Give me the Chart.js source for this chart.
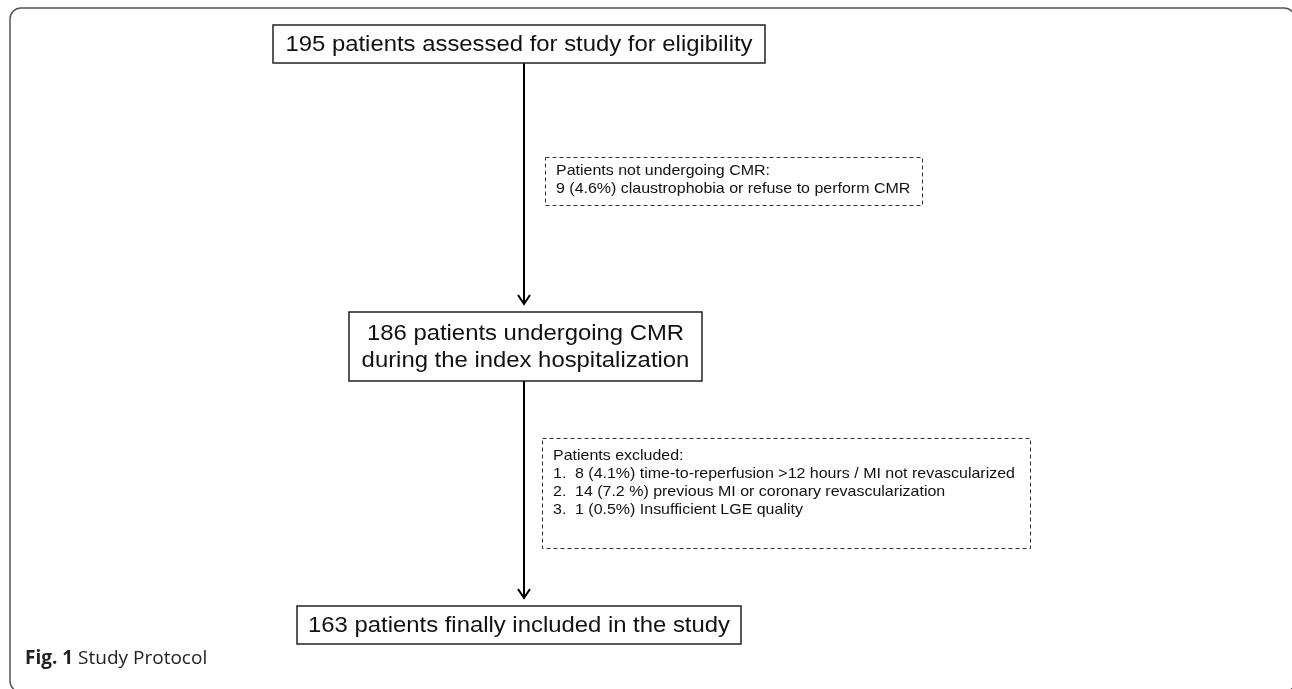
<!DOCTYPE html>
<html>
<head>
<meta charset="utf-8">
<script src="https://cdn.jsdelivr.net/npm/chart.js@4/dist/chart.umd.min.js"></script>
<style>
  body { margin: 0; background: #fff; }
  canvas { display: block; }
</style>
</head>
<body>
<canvas id="flow" width="1292" height="689"></canvas>
<script>
// flow counts
const stageCounts = [195, 186, 163];
const stageLines = [
    ['{n} patients assessed for study for eligibility'],
    ['{n} patients undergoing CMR', 'during the index hospitalization'],
    ['{n} patients finally included in the study']
];
const exclusionTitles = ['Patients not undergoing CMR:', 'Patients excluded:'];
const exclusionCounts = [[9], [8, 14, 1]];
const exclusionPct = [['4.6%'], ['4.1%', '7.2 %', '0.5%']];
const exclusionReasons = [
    ['claustrophobia or refuse to perform CMR'],
    ['time-to-reperfusion >12 hours / MI not revascularized',
     'previous MI or coronary revascularization',
     'Insufficient LGE quality']
];
const caption = ['Fig. 1', 'Study Protocol'];

// layout in scale units (x: 0..1292, y: 0..689 top-down)
const layout = {
    stages: [
        {x0: 273, x1: 765, y0: 25, y1: 63},
        {x0: 349, x1: 702, y0: 312, y1: 381},
        {x0: 297, x1: 741, y0: 606, y1: 644}
    ],
    side: [
        {x0: 545, x1: 922, y0: 157, y1: 205, first: 14},
        {x0: 542, x1: 1030, y0: 438, y1: 548, first: 18}
    ],
    arrowX: 524
};

// text is a bit wider than Liberation Sans in the original
function stretchText(ctx, text, x, y, sx, align) {
    ctx.save();
    const w = ctx.measureText(text).width * sx;
    let left = x;
    if (align === 'center') left = x - w / 2;
    ctx.translate(left, y);
    ctx.scale(sx, 1);
    ctx.textAlign = 'left';
    ctx.fillText(text, 0, 0);
    ctx.restore();
}

const flowPlugin = {
    id: 'flow',
    afterDraw(chart) {
        const ctx = chart.ctx;
        const sx = chart.scales.x, sy = chart.scales.y;
        const X = v => sx.getPixelForValue(v);
        const Y = v => sy.getPixelForValue(v);
        ctx.save();

        // outer frame
        ctx.strokeStyle = '#555';
        ctx.lineWidth = 1.5;
        ctx.beginPath();
        ctx.roundRect(X(10), Y(8), X(1295) - X(10), Y(692) - Y(8), 11);
        ctx.stroke();

        // arrows between stages
        ctx.strokeStyle = '#000';
        ctx.lineWidth = 2;
        for (let i = 0; i < layout.stages.length - 1; i++) {
            const top = Y(layout.stages[i].y1), tip = Y(layout.stages[i + 1].y0 - 8);
            const ax = X(layout.arrowX);
            ctx.beginPath();
            ctx.moveTo(ax, top);
            ctx.lineTo(ax, tip);
            ctx.moveTo(ax - 6, tip - 9);
            ctx.lineTo(ax, tip);
            ctx.lineTo(ax + 6, tip - 9);
            ctx.stroke();
        }

        // stage boxes
        ctx.font = '22px "Liberation Sans", Arial, sans-serif';
        ctx.textBaseline = 'middle';
        layout.stages.forEach((b, i) => {
            ctx.fillStyle = '#fff';
            ctx.fillRect(X(b.x0), Y(b.y0), X(b.x1) - X(b.x0), Y(b.y1) - Y(b.y0));
            ctx.strokeStyle = '#222';
            ctx.lineWidth = 1.5;
            ctx.strokeRect(X(b.x0), Y(b.y0), X(b.x1) - X(b.x0), Y(b.y1) - Y(b.y0));
            ctx.fillStyle = '#111';
            const lines = stageLines[i];
            const cx = (X(b.x0) + X(b.x1)) / 2, cy = (Y(b.y0) + Y(b.y1)) / 2;
            const lh = 27;
            lines.forEach((t, j) => {
                stretchText(ctx, t.replace('{n}', stageCounts[i]), cx,
                    cy + (j - (lines.length - 1) / 2) * lh + 1, 1.085, 'center');
            });
        });

        // exclusion boxes
        ctx.font = '15px "Liberation Sans", Arial, sans-serif';
        layout.side.forEach((b, i) => {
            ctx.fillStyle = '#fff';
            ctx.fillRect(X(b.x0), Y(b.y0), X(b.x1) - X(b.x0), Y(b.y1) - Y(b.y0));
            ctx.strokeStyle = '#333';
            ctx.lineWidth = 1;
            ctx.setLineDash([4, 3]);
            ctx.strokeRect(X(b.x0) + 0.5, Y(b.y0) + 0.5, X(b.x1) - X(b.x0), Y(b.y1) - Y(b.y0));
            ctx.setLineDash([]);
            ctx.fillStyle = '#111';
            const left = X(b.x0) + 11;
            let yy = Y(b.y0) + b.first;
            stretchText(ctx, exclusionTitles[i], left, yy, 1.065, 'left');
            const n = exclusionCounts[i].length;
            for (let j = 0; j < n; j++) {
                yy += 18;
                const body = exclusionCounts[i][j] + ' (' + exclusionPct[i][j] + ') ' + exclusionReasons[i][j];
                if (n > 1) {
                    stretchText(ctx, (j + 1) + '.', left, yy, 1.065, 'left');
                    stretchText(ctx, body, left + 22, yy, 1.065, 'left');
                } else {
                    stretchText(ctx, body, left, yy, 1.065, 'left');
                }
            }
        });

        // caption
        ctx.textBaseline = 'alphabetic';
        ctx.textAlign = 'left';
        ctx.fillStyle = '#222';
        ctx.font = 'bold 19px "Open Sans", sans-serif';
        ctx.fillText(caption[0], X(25), Y(664));
        const w = ctx.measureText(caption[0] + ' ').width;
        ctx.font = '19px "Open Sans", sans-serif';
        ctx.fillText(caption[1], X(25) + w, Y(664));

        ctx.restore();
    }
};

new Chart(document.getElementById('flow').getContext('2d'), {
    type: 'scatter',
    data: { datasets: [] },
    options: {
        responsive: false,
        animation: false,
        layout: { padding: 0 },
        plugins: { legend: { display: false }, tooltip: { enabled: false } },
        scales: {
            x: { type: 'linear', min: 0, max: 1292, display: false },
            y: { type: 'linear', min: 0, max: 689, reverse: true, display: false }
        }
    },
    plugins: [flowPlugin]
});
</script>
</body>
</html>
